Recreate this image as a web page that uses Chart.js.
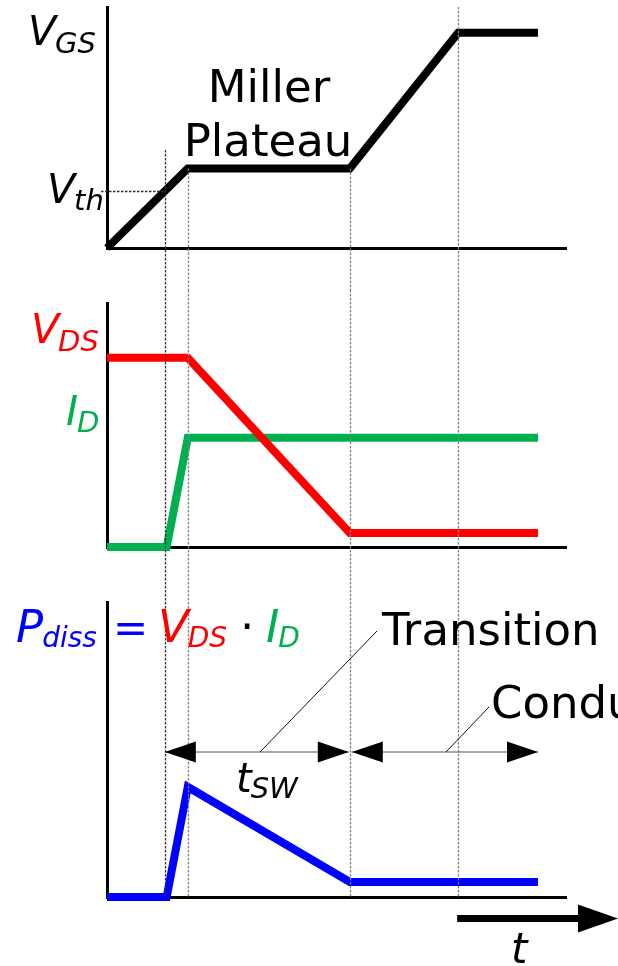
<!DOCTYPE html>
<html>
<head>
<meta charset="utf-8">
<title>MOSFET turn-on waveforms</title>
<script src="https://cdn.jsdelivr.net/npm/chart.js@4.4.1/dist/chart.umd.min.js"></script>
<style>
  body { margin: 0; background: #fff; }
  #wrap { position: relative; width: 618px; height: 966px; overflow: hidden; }
  canvas { position: absolute; left: 0; }
</style>
</head>
<body>
<div id="wrap">
  <canvas id="gateChart" width="618" height="290" style="top:0px"></canvas>
  <canvas id="drainChart" width="618" height="300" style="top:290px"></canvas>
  <canvas id="lossChart" width="618" height="376" style="top:590px"></canvas>
</div>
<script>
// shared time axis (arbitrary units across the plot width)
const tMax = 100;
// Vth crossing, plateau start, plateau end, gate fully charged
const eventTimes = [12.6, 17.6, 52.9, 76.5];
const tEnd = 93.9;

// gate-source voltage
const vgsTime = [0, 17.6, 52.9, 76.5, 93.9];
const vgsValues = [0, 3.7, 3.7, 10, 10];
const vth = 2.65;
const vgsMax = 11.2;
// where each guide line starts in the top panel (in volts)
const guideTops = [4.55, 3.7, 3.7, 11.2];

// drain-source voltage and drain current (relative units)
const vdsTime = [0, 17.6, 52.9, 93.9];
const vdsValues = [100, 100, 7.4, 7.4];
const idTime = [0, 13, 17.6, 93.9];
const idValues = [0, 0, 57.7, 57.7];
const drainMax = 129;

// dissipated power (relative units)
const pdissTime = [0, 13, 17.6, 52.9, 93.9];
const pdissValues = [0, 0, 100, 13.6, 13.6];
const lossMax = 268;

const RED = '#ff0000';
const GREEN = '#00b050';
const BLUE = '#0000ff';
const FONT = '"DejaVu Sans", Verdana, sans-serif';

function toPoints(times, values) {
    return times.map((t, i) => ({ x: t, y: values[i] }));
}

function trace(data, color) {
    return {
        data: data,
        borderColor: color,
        borderWidth: 8,
        borderCapStyle: 'butt',
        borderJoinStyle: 'miter',
        pointRadius: 0,
        tension: 0,
        fill: false,
        clip: false
    };
}

function subLabel(ctx, x, y, main, sub, color, size, subSize, drop) {
    ctx.fillStyle = color;
    ctx.font = 'italic ' + size + 'px ' + FONT;
    ctx.fillText(main, x, y);
    const w = ctx.measureText(main).width;
    ctx.font = 'italic ' + subSize + 'px ' + FONT;
    ctx.fillText(sub, x + w - 1, y + drop);
    return x + w - 1 + ctx.measureText(sub).width;
}

function plainText(ctx, text, x, y, size, color, align) {
    ctx.fillStyle = color || '#000';
    ctx.font = size + 'px ' + FONT;
    ctx.textAlign = align || 'left';
    ctx.fillText(text, x, y);
    ctx.textAlign = 'left';
}

function dashedLine(ctx, x1, y1, x2, y2, color) {
    ctx.save();
    ctx.strokeStyle = color;
    ctx.lineWidth = 1.3;
    ctx.setLineDash([2.5, 1.5]);
    ctx.beginPath();
    ctx.moveTo(x1, y1);
    ctx.lineTo(x2, y2);
    ctx.stroke();
    ctx.restore();
}

function thinLine(ctx, x1, y1, x2, y2, color) {
    ctx.strokeStyle = color;
    ctx.lineWidth = 1;
    ctx.beginPath();
    ctx.moveTo(x1, y1);
    ctx.lineTo(x2, y2);
    ctx.stroke();
}

// filled triangle, tip at (x, y), pointing left (dir = -1) or right (dir = 1)
function arrowHead(ctx, x, y, dir, len, half) {
    ctx.fillStyle = '#000';
    ctx.beginPath();
    ctx.moveTo(x, y);
    ctx.lineTo(x - dir * len, y - half);
    ctx.lineTo(x - dir * len, y + half);
    ctx.closePath();
    ctx.fill();
}

function doubleArrow(ctx, xa, xb, y) {
    thinLine(ctx, xa, y, xb, y, '#555');
    arrowHead(ctx, xa, y, -1, 31, 10.5);
    arrowHead(ctx, xb, y, 1, 31, 10.5);
}

function guideColor(i) {
    return i === 0 ? '#333' : '#808080';
}

// one panel = one chart; pageTop is the canvas offset so notes use page coordinates
function makePanel(id, pageTop, plotTop, plotBottom, canvasHeight, yMax, datasets, drawNotes) {
    const notes = {
        id: 'notes',
        afterDatasetsDraw(chart) {
            const ctx = chart.ctx;
            ctx.save();
            ctx.translate(0, -pageTop);
            drawNotes(ctx, chart);
            ctx.restore();
        }
    };
    return new Chart(document.getElementById(id), {
        type: 'line',
        data: { datasets: datasets },
        options: {
            responsive: false,
            animation: false,
            events: [],
            layout: {
                padding: {
                    left: 107,
                    right: 618 - 566,
                    top: plotTop - pageTop,
                    bottom: canvasHeight - (plotBottom - pageTop)
                }
            },
            plugins: { legend: { display: false }, tooltip: { enabled: false } },
            scales: {
                x: {
                    type: 'linear',
                    min: 0,
                    max: tMax,
                    ticks: { display: false },
                    grid: { display: false, drawTicks: false },
                    border: { display: true, color: '#000', width: 3 },
                    afterFit: s => { s.height = 0; }
                },
                y: {
                    type: 'linear',
                    min: 0,
                    max: yMax,
                    ticks: { display: false },
                    grid: { display: false, drawTicks: false },
                    border: { display: true, color: '#000', width: 3 },
                    afterFit: s => { s.width = 0; }
                }
            }
        },
        plugins: [notes]
    });
}

// --- V_GS panel ---
makePanel('gateChart', 0, 7, 248, 290, vgsMax,
    [trace(toPoints(vgsTime, vgsValues), '#000')],
    (ctx, chart) => {
        const xs = chart.scales.x, ys = chart.scales.y;
        const yVth = ys.getPixelForValue(vth);
        dashedLine(ctx, 101, yVth + 0.5, xs.getPixelForValue(eventTimes[0]), yVth + 0.5, '#333');
        eventTimes.forEach((t, i) => {
            const x = Math.round(xs.getPixelForValue(t)) + 0.5;
            dashedLine(ctx, x, ys.getPixelForValue(guideTops[i]), x, 290, guideColor(i));
        });
        subLabel(ctx, 28, 45, 'V', 'GS', '#000', 41, 29, 8);
        subLabel(ctx, 47, 203, 'V', 'th', '#000', 41, 29, 7);
        plainText(ctx, 'Miller', 269, 102, 45, '#000', 'center');
        plainText(ctx, 'Plateau', 268, 156, 45, '#000', 'center');
    });

// --- V_DS / I_D panel ---
makePanel('drainChart', 290, 303, 547, 300, drainMax,
    [trace(toPoints(vdsTime, vdsValues), RED), trace(toPoints(idTime, idValues), GREEN)],
    (ctx, chart) => {
        const xs = chart.scales.x;
        eventTimes.forEach((t, i) => {
            const x = Math.round(xs.getPixelForValue(t)) + 0.5;
            dashedLine(ctx, x, 290, x, 590, guideColor(i));
        });
        subLabel(ctx, 31, 343, 'V', 'DS', RED, 41, 29, 8);
        subLabel(ctx, 66, 425, 'I', 'D', GREEN, 41, 29, 7);
    });

// --- P_diss panel ---
makePanel('lossChart', 590, 602, 897, 376, lossMax,
    [trace(toPoints(pdissTime, pdissValues), BLUE)],
    (ctx, chart) => {
        const xs = chart.scales.x;
        const bottom = chart.chartArea.bottom + 590;
        eventTimes.forEach((t, i) => {
            const x = Math.round(xs.getPixelForValue(t)) + 0.5;
            dashedLine(ctx, x, 590, x, bottom, guideColor(i));
        });

        // P_diss = V_DS · I_D
        subLabel(ctx, 16, 642, 'P', 'diss', BLUE, 45, 28, 5);
        plainText(ctx, '=', 113, 642, 42, BLUE);
        subLabel(ctx, 158, 642, 'V', 'DS', RED, 45, 28, 5);
        plainText(ctx, '\u00b7', 240, 642, 45, '#000');
        subLabel(ctx, 266, 642, 'I', 'D', GREEN, 45, 28, 5);

        // switching and conduction intervals
        const x1 = xs.getPixelForValue(eventTimes[0]);
        const x3 = xs.getPixelForValue(eventTimes[2]);
        const xe = xs.getPixelForValue(tEnd);
        const yArrow = 752;
        doubleArrow(ctx, x1, x3 - 1, yArrow);
        doubleArrow(ctx, x3 + 2, xe, yArrow);
        thinLine(ctx, 377, 631, 260, yArrow, '#111');
        thinLine(ctx, 489, 707, 446, yArrow, '#111');
        plainText(ctx, 'Transition', 382, 645, 45, '#000');
        plainText(ctx, 'Conduction', 491, 718, 45, '#000');
        subLabel(ctx, 236, 792, 't', 'SW', '#000', 40, 29, 6);

        // time direction arrow
        const xt = xs.getPixelForValue(eventTimes[3]);
        ctx.fillStyle = '#000';
        ctx.fillRect(xt - 1, 915, 580 - xt, 7);
        arrowHead(ctx, 618, 918.5, 1, 40, 14);
        ctx.font = 'italic 42px ' + FONT;
        ctx.fillText('t', 511, 963);
    });
</script>
</body>
</html>
